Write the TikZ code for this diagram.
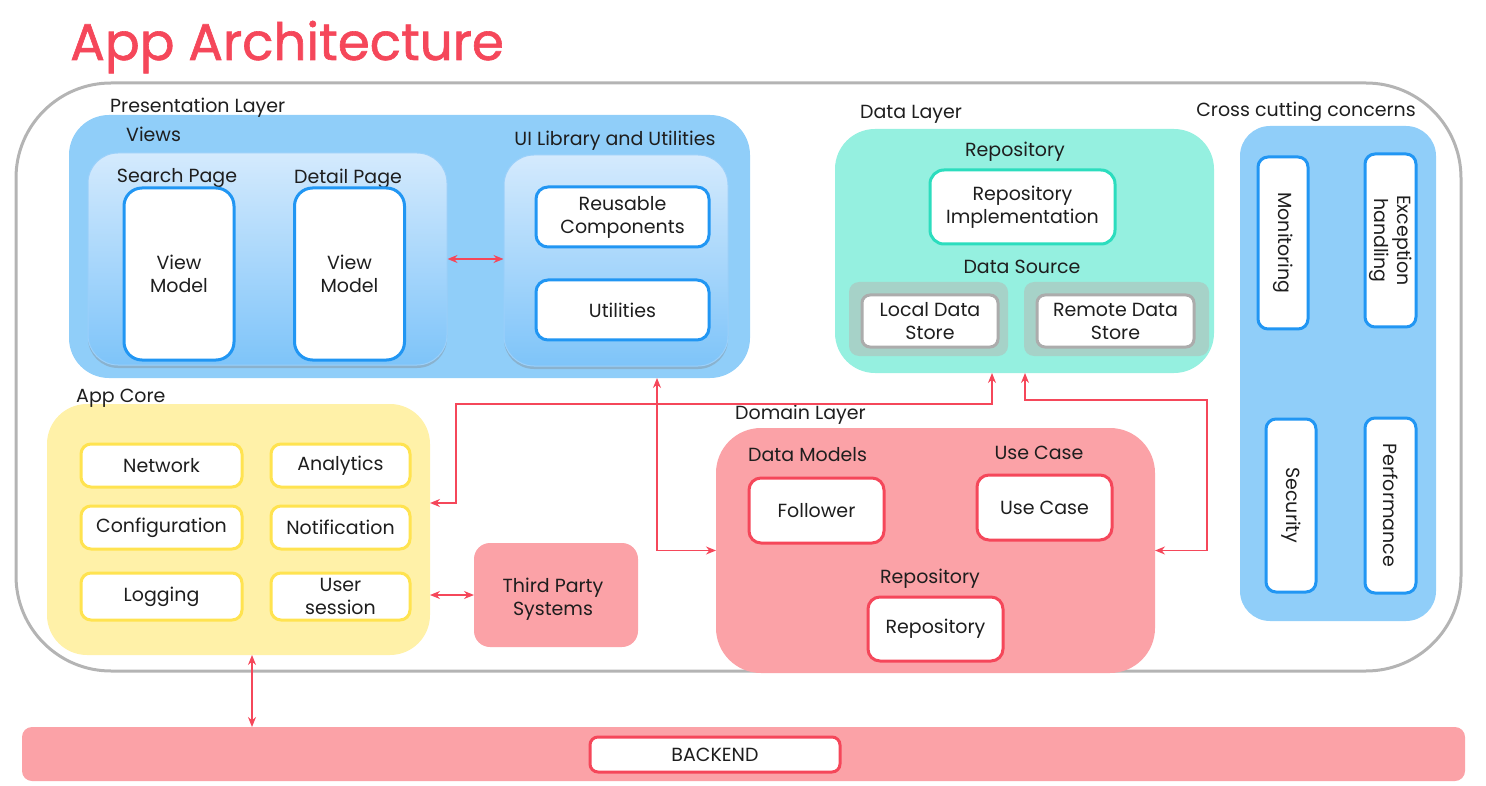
\documentclass[tikz,border=0pt]{standalone}
\usepackage{fontspec}
\setmainfont{Poppins}
\newfontfamily\titlefont{Poppins}[FakeBold=1.2]
\usepackage{tikz}
\usetikzlibrary{positioning,fit,shapes,calc,shadows,arrows.meta}
\definecolor{ink}{RGB}{30,30,30}
\definecolor{accent}{RGB}{245,71,90}
\definecolor{sky}{RGB}{144,206,249}
\definecolor{skytop}{RGB}{212,234,253}
\definecolor{skybot}{RGB}{126,196,249}
\definecolor{skyline}{RGB}{33,150,243}
\definecolor{mint}{RGB}{149,240,224}
\definecolor{mintline}{RGB}{44,221,190}
\definecolor{store}{RGB}{166,210,200}
\definecolor{storeline}{RGB}{172,172,172}
\definecolor{lemon}{RGB}{255,241,168}
\definecolor{lemonline}{RGB}{255,227,80}
\definecolor{rose}{RGB}{251,162,167}
\definecolor{frame}{RGB}{180,180,180}
\newcommand{\lbl}{\fontsize{19}{23}\selectfont}
\tikzset{
  layer/.style   = {rounded corners=40pt, inner sep=0pt, outer sep=0pt},
  caption/.style = {font=\lbl, text=ink, inner sep=0pt, text height=13.5pt, text depth=0pt},
  card/.style    = {draw=skyline, fill=white, line width=3pt, rounded corners=12pt,
                    align=center, font=\lbl, text=ink, inner sep=0pt},
  panel/.style   = {draw=skyline!45, line width=1pt, rounded corners=30pt,
                    top color=skytop, bottom color=skybot,
                    drop shadow={shadow xshift=0pt, shadow yshift=-3pt, opacity=.35}},
  link/.style    = {<->, >={Stealth[length=10pt,width=8pt]}, draw=accent, line width=1.3pt}
}

\begin{document}
\begin{tikzpicture}[x=1pt,y=-1pt]
  \useasboundingbox (0,0) rectangle (1486,786);
  \node[anchor=base west, inner sep=0pt, text=accent,
        font=\titlefont\fontsize{51.5}{60}\selectfont] (title) at (70,60) {App Architecture};
  \node[draw=frame, line width=3pt, rounded corners=95pt, inner sep=0pt,
        minimum width=1445, minimum height=588] (app) at (738.5,377) {};

  % presentation layer
  \node[layer, fill=sky, minimum width=681, minimum height=263] (pres) at (409.5,246.5) {};
  \node[caption, anchor=west] at (110,106) {Presentation Layer};
  \node[caption, anchor=west] at (126,135) {Views};
  \node[panel, minimum width=359, minimum height=212] (views) at (267.5,259) {};
  \node[caption] at (177,176) {Search Page};
  \node[caption] at (348,177) {Detail Page};
  \node[card, rounded corners=18pt, minimum width=110, minimum height=172] (vmsearch) at (179,274) {View\\Model};
  \node[card, rounded corners=18pt, minimum width=110, minimum height=172] (vmdetail) at (349.5,274) {View\\Model};
  \node[caption] at (615,139) {UI Library and Utilities};
  \node[panel, minimum width=224, minimum height=211] (ui) at (616,260.5) {};
  \node[card, minimum width=173, minimum height=60] (reuse) at (622.5,217) {Reusable\\Components};
  \node[card, minimum width=173, minimum height=60] (util) at (622.5,310) {Utilities};

  % data layer
  \node[layer, fill=mint, minimum width=379, minimum height=244] (data) at (1024.5,251) {};
  \node[caption, anchor=west] at (860,112) {Data Layer};
  \node[caption] at (1015,150) {Repository};
  \node[card, draw=mintline, rounded corners=14pt, minimum width=185, minimum height=74] (impl) at (1022.5,207) {Repository\\Implementation};
  \node[caption] at (1022,267) {Data Source};
  \node[layer, fill=store, rounded corners=10pt, minimum width=159, minimum height=74] (localbg) at (928.5,319) {};
  \node[layer, fill=store, rounded corners=10pt, minimum width=185, minimum height=74] (remotebg) at (1116.5,319) {};
  \node[card, draw=storeline, rounded corners=8pt, minimum width=136, minimum height=52] (local) at (930,321) {Local Data\\Store};
  \node[card, draw=storeline, rounded corners=8pt, minimum width=157, minimum height=52] (remote) at (1115.5,321) {Remote Data\\Store};

  % cross cutting concerns
  \node[layer, fill=sky, rounded corners=30pt, minimum width=196, minimum height=495] (cross) at (1338,373.5) {};
  \node[caption] at (1306,110) {Cross cutting concerns};
  \node[card, rounded corners=10pt, rotate=-90, minimum width=172, minimum height=50] (monitor) at (1283,243) {Monitoring};
  \node[card, rounded corners=10pt, rotate=-90, minimum width=173, minimum height=51] (except) at (1390.5,240.5) {Exception\\handling};
  \node[card, rounded corners=10pt, rotate=-90, minimum width=173, minimum height=50] (secure) at (1291,505.5) {Security};
  \node[card, rounded corners=10pt, rotate=-90, minimum width=175, minimum height=51] (perf) at (1390.5,505.5) {Performance};

  % app core
  \node[layer, fill=lemon, minimum width=383, minimum height=251] (core) at (238.5,529.5) {};
  \node[caption, anchor=west] at (76,396) {App Core};
  \node[card, draw=lemonline, rounded corners=10pt, minimum width=161, minimum height=43] (network) at (161.5,465.5) {Network};
  \node[card, draw=lemonline, rounded corners=10pt, minimum width=139, minimum height=43] (analytics) at (340.5,465.5) {Analytics};
  \node[card, draw=lemonline, rounded corners=10pt, minimum width=161, minimum height=43] (config) at (161.5,527.5) {Configuration};
  \node[card, draw=lemonline, rounded corners=10pt, minimum width=139, minimum height=43] (notify) at (340.5,527.5) {Notification};
  \node[card, draw=lemonline, rounded corners=10pt, minimum width=161, minimum height=47] (logging) at (161.5,596.5) {Logging};
  \node[card, draw=lemonline, rounded corners=10pt, minimum width=139, minimum height=47] (session) at (340.5,596.5) {User\\session};
  \node[layer, fill=rose, rounded corners=16pt, minimum width=164, minimum height=104] (third) at (556,595) {};
  \node[caption, align=center, text height=, text depth=] at (553,599) {Third Party\\Systems};

  % domain layer
  \node[layer, fill=rose, rounded corners=45pt, minimum width=439, minimum height=245] (domain) at (935.5,550.5) {};
  \node[caption, anchor=west] at (735,413) {Domain Layer};
  \node[caption, anchor=west] at (748,455) {Data Models};
  \node[caption] at (1039,453) {Use Case};
  \node[caption] at (930,577) {Repository};
  \node[card, draw=accent, minimum width=135, minimum height=65] (follower) at (816.5,510.5) {Follower};
  \node[card, draw=accent, minimum width=135, minimum height=65] (usecase) at (1044.5,507.5) {Use Case};
  \node[card, draw=accent, minimum width=135, minimum height=64] (repo) at (935.5,629) {Repository};

  % backend
  \node[layer, fill=rose, rounded corners=10pt, minimum width=1443, minimum height=54] (backend) at (743.5,754) {};
  \node[card, draw=accent, rounded corners=8pt, minimum width=250, minimum height=35] (server) at (715,754.5) {BACKEND};

  % connectors
  \draw[link] (views.east) -- (views.east -| ui.west);
  \draw[link] (pres.south -| 657,0) |- (domain.west);
  \draw[link] (core.east |- 0,503) -| (456,404) -| (data.south -| 992,0);
  \draw[link] (data.south -| 1025,0) |- (1207,400) |- (domain.east);
  \draw[link] (core.east |- third.west) -- (third.west);
  \draw[link] (core.south -| 252,0) -- (backend.north -| 252,0);
\end{tikzpicture}
\end{document}
